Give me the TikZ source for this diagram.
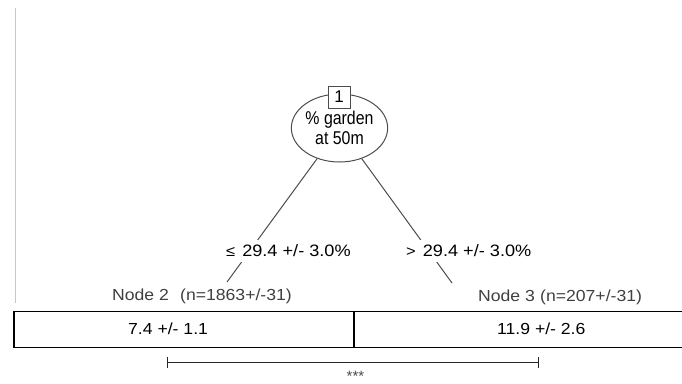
\documentclass[tikz,border=0pt]{standalone}
\usepackage{fontspec}
\setmainfont{Liberation Sans}
\newfontfamily\widesf[FakeStretch=1.1]{Liberation Sans}
\newfontfamily\narrowsf[FakeStretch=0.86]{Liberation Sans}
\usetikzlibrary{shapes.geometric,arrows.meta}
\begin{document}
\begin{tikzpicture}[x=1pt,y=-1pt,
        branch/.style={draw=black!70,line width=1pt},
        edgelabel/.style={fill=white,anchor=west,inner xsep=0pt,inner ysep=5pt,
            font=\widesf\fontsize{16.5}{19}\selectfont},
        nodelabel/.style={anchor=base west,inner sep=0pt,text=black!75,
            font=\widesf\fontsize{16}{19}\selectfont},
        leafvalue/.style={anchor=base west,inner sep=0pt,
            font=\widesf\fontsize{16}{19}\selectfont}]
\useasboundingbox (0,0) rectangle (682,383);
\clip (0,0) rectangle (682,383);
\draw[black!22,line width=0.8pt] (15,8) -- (15,303);

% split
\node[ellipse,draw=black!70,line width=1pt,minimum width=95pt,minimum height=68pt,
    inner sep=0pt,align=center,font=\narrowsf\fontsize{18.5}{19.5}\selectfont] (split) at (339.5,128) {\% garden\\at 50m};
\node[draw=black!70,fill=white,line width=1pt,minimum size=22pt,inner sep=0pt,
    font=\fontsize{17}{17}\selectfont] (id) at (339,97) {1};

\coordinate (end2) at (227,282);
\coordinate (end3) at (452,283);
\draw[branch] (split) -- (end2);
\draw[branch] (split) -- (end3);
\node[edgelabel] (lab2) at (226,251) {{\fontsize{15}{15}\selectfont ≤}\hspace{7pt}29.4 +/- 3.0\%};
\node[edgelabel] (lab3) at (406,251) {{\fontsize{15}{15}\selectfont >}\hspace{7pt}29.4 +/- 3.0\%};

% terminal nodes
\node[nodelabel] (name2) at (112,300.7) {Node 2};
\node[nodelabel] (count2) at (180,300.7) {(n=1863+/-31)};
\node[nodelabel] (name3) at (478,301) {Node 3};
\node[nodelabel] (count3) at (540,301) {(n=207+/-31)};

\draw[line width=1.4pt] (14,311.5) rectangle (720,347.5);
\draw[line width=1.2pt] (354,311.5) -- (354,347.5);
\node[leafvalue] (val2) at (128,334) {7.4 +/- 1.1};
\node[leafvalue] (val3) at (497,334) {11.9 +/- 2.6};

% comparison
\coordinate (cmp2) at (167,362.5);
\coordinate (cmp3) at (539,362.5);
\draw[{Bar[width=11pt]}-{Bar[width=11pt]},black!85,line width=1pt] (cmp2) -- (cmp3);
\node[anchor=base,inner sep=0pt,text=black!70,font=\fontsize{15}{15}\selectfont] (stars) at (355.5,381) {***};
\end{tikzpicture}
\end{document}
